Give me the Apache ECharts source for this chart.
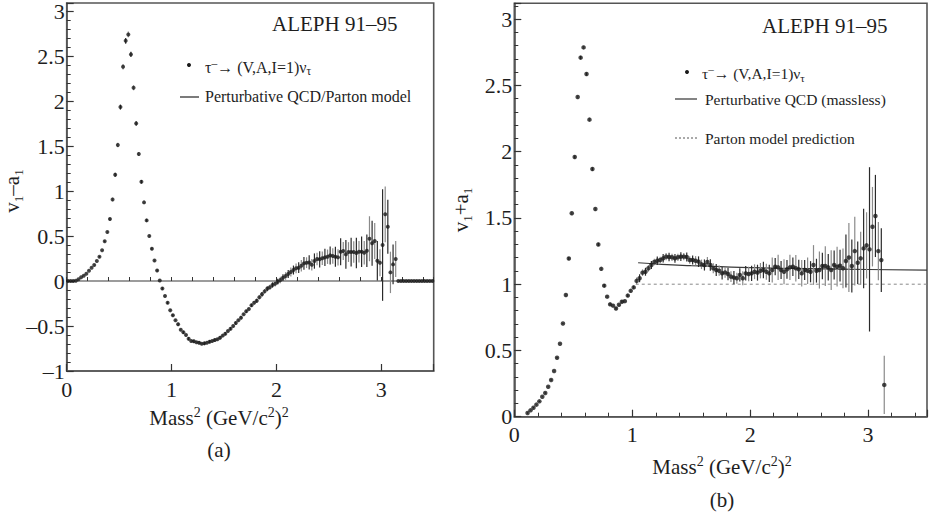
<!DOCTYPE html>
<html><head><meta charset="utf-8">
<script src="https://cdn.jsdelivr.net/npm/echarts@6/dist/echarts.min.js"></script>
<style>html,body{margin:0;padding:0;background:#fff}#c{width:930px;height:518px}</style>
</head><body><div id="c"></div>
<script>
// ---- data ----
const massBins = [
0.0125,0.0375,0.0625,0.0875,0.1125,0.1375,0.1625,0.1875,0.2125,0.2375,
0.2625,0.2875,0.3125,0.3375,0.3625,0.3875,0.4125,0.4375,0.4625,0.4875,
0.5125,0.5375,0.5625,0.5875,0.6125,0.6375,0.6625,0.6875,0.7125,0.7375,
0.7625,0.7875,0.8125,0.8375,0.8625,0.8875,0.9125,0.9375,0.9625,0.9875,
1.0125,1.0375,1.0625,1.0875,1.1125,1.1375,1.1625,1.1875,1.2125,1.2375,
1.2625,1.2875,1.3125,1.3375,1.3625,1.3875,1.4125,1.4375,1.4625,1.4875,
1.5125,1.5375,1.5625,1.5875,1.6125,1.6375,1.6625,1.6875,1.7125,1.7375,
1.7625,1.7875,1.8125,1.8375,1.8625,1.8875,1.9125,1.9375,1.9625,1.9875,
2.0125,2.0375,2.0625,2.0875,2.1125,2.1375,2.1625,2.1875,2.2125,2.2375,
2.2625,2.2875,2.3125,2.3375,2.3625,2.3875,2.4125,2.4375,2.4625,2.4875,
2.5125,2.5375,2.5625,2.5875,2.6125,2.6375,2.6625,2.6875,2.7125,2.7375,
2.7625,2.7875,2.8125,2.8375,2.8625,2.8875,2.9125,2.9375,2.9625,2.9875,
3.0125,3.0375,3.0625,3.0875,3.1125,3.1375,3.1625,3.1875,3.2125,3.2375,
3.2625,3.2875,3.3125,3.3375,3.3625,3.3875,3.4125,3.4375,3.4625,3.4875];

// (a) v1 - a1
const vMinusA = [
0,0,0,0.004,0.019,0.041,0.059,0.081,0.115,0.148,
0.178,0.222,0.27,0.341,0.441,0.544,0.689,0.907,1.181,1.511,
1.933,2.381,2.67,2.741,2.519,2.148,1.752,1.411,1.103,0.874,
0.674,0.5,0.358,0.227,0.116,0.006,-0.082,-0.167,-0.241,-0.326,
-0.381,-0.437,-0.481,-0.541,-0.57,-0.6,-0.641,-0.667,-0.67,-0.681,
-0.685,-0.696,-0.693,-0.685,-0.674,-0.667,-0.656,-0.648,-0.63,-0.607,
-0.585,-0.556,-0.53,-0.5,-0.467,-0.437,-0.407,-0.37,-0.337,-0.311,
-0.27,-0.241,-0.219,-0.181,-0.148,-0.115,-0.085,-0.07,-0.044,-0.03,
-0.008,0.011,0.037,0.056,0.078,0.1,0.122,0.141,0.148,0.17,
0.196,0.204,0.207,0.181,0.222,0.244,0.241,0.252,0.263,0.27,
0.285,0.278,0.27,0.263,0.326,0.333,0.296,0.322,0.322,0.322,
0.311,0.326,0.326,0.315,0.337,0.47,0.419,0.444,0.226,0.204,
0.4,0.741,0.604,0.096,0.185,0.244,0,0,0,0,
0,0,0,0,0,0,0,0,0,0];
const vMinusAErr = [
0.003,0.003,0.003,0.003,0.003,0.003,0.003,0.003,0.003,0.003,
0.006,0.006,0.008,0.008,0.01,0.012,0.015,0.02,0.022,0.025,
0.028,0.03,0.032,0.032,0.03,0.028,0.025,0.022,0.02,0.018,
0.016,0.014,0.014,0.014,0.014,0.014,0.014,0.014,0.014,0.014,
0.014,0.013,0.018,0.013,0.018,0.013,0.018,0.013,0.018,0.013,
0.018,0.013,0.018,0.013,0.018,0.013,0.018,0.013,0.018,0.013,
0.018,0.013,0.018,0.013,0.018,0.013,0.018,0.013,0.018,0.013,
0.018,0.02,0.022,0.022,0.025,0.025,0.028,0.028,0.03,0.03,
0.032,0.036,0.038,0.042,0.045,0.05,0.05,0.055,0.06,0.065,
0.07,0.06,0.08,0.065,0.085,0.07,0.09,0.075,0.095,0.08,
0.1,0.085,0.11,0.09,0.15,0.1,0.16,0.11,0.16,0.12,
0.17,0.12,0.17,0.13,0.18,0.25,0.25,0.2,0.22,0.15,
0.62,0.31,0.3,0.23,0.22,0.2,0,0,0,0,
0,0,0,0,0,0,0,0,0,0];

// (b) v1 + a1
const vPlusA = [
null,null,null,null,0.028,0.048,0.068,0.091,0.116,0.151,
0.179,0.226,0.277,0.345,0.445,0.551,0.703,0.918,1.194,1.535,
1.96,2.413,2.71,2.787,2.586,2.242,1.869,1.567,1.3,1.116,
0.989,0.906,0.848,0.838,0.817,0.845,0.868,0.872,0.914,0.95,
0.976,1.025,1.045,1.087,1.094,1.12,1.145,1.168,1.177,1.183,
1.195,1.208,1.205,1.203,1.195,1.203,1.208,1.208,1.205,1.183,
1.183,1.177,1.17,1.15,1.145,1.168,1.145,1.12,1.107,1.102,
1.082,1.089,1.077,1.057,1.05,1.045,1.07,1.045,1.082,1.077,
1.082,1.094,1.087,1.102,1.107,1.094,1.082,1.107,1.132,1.127,
1.107,1.094,1.112,1.127,1.132,1.12,1.112,1.082,1.107,1.102,
1.094,1.145,1.102,1.107,1.137,1.137,1.127,1.107,1.145,1.132,
1.14,1.12,1.175,1.202,1.137,1.25,1.162,1.195,1.27,1.293,
1.263,1.434,1.515,1.25,1.182,0.24,null,null,null,null,
null,null,null,null,null,null,null,null,null,null];
const vPlusAErr = [
null,null,null,null,0.005,0.005,0.005,0.005,0.005,0.005,
0.005,0.005,0.005,0.005,0.005,0.005,0.005,0.012,0.012,0.012,
0.012,0.012,0.012,0.012,0.012,0.012,0.012,0.012,0.012,0.012,
0.012,0.01,0.01,0.01,0.01,0.01,0.01,0.01,0.01,0.01,
0.01,0.025,0.03,0.025,0.03,0.025,0.03,0.025,0.032,0.025,
0.032,0.027,0.032,0.027,0.033,0.027,0.033,0.028,0.034,0.028,
0.034,0.035,0.04,0.036,0.042,0.037,0.044,0.038,0.046,0.039,
0.047,0.04,0.048,0.041,0.05,0.042,0.05,0.052,0.055,0.054,
0.058,0.056,0.06,0.058,0.062,0.06,0.065,0.095,0.065,0.095,
0.068,0.095,0.07,0.095,0.07,0.1,0.072,0.1,0.075,0.1,
0.08,0.15,0.09,0.14,0.1,0.15,0.1,0.15,0.11,0.15,
0.12,0.15,0.2,0.26,0.2,0.26,0.16,0.2,0.3,0.25,
0.62,0.3,0.31,0.22,0.24,0.22,null,null,null,null,
null,null,null,null,null,null,null,null,null,null];

// theory curves
const pqcdLeftX = [0, 3.5];
const pqcdLeftY = [0, 0];
const pqcdRightX = [1.05, 1.25, 1.5, 1.75, 2.0, 2.5, 3.0, 3.5];
const pqcdRightY = [1.162, 1.15, 1.14, 1.132, 1.125, 1.117, 1.111, 1.106];
const partonX = [1.03, 3.5];
const partonY = [1, 1];

// tick labels
const xTickLabels = [0, 1, 2, 3];
const yTickLabelsA = [-1, -0.5, 0, 0.5, 1, 1.5, 2, 2.5, 3];
const yTickLabelsB = [0, 0.5, 1, 1.5, 2, 2.5, 3];

// ---- chart ----
const SERIF = 'Liberation Serif, serif';
const INK = '#1e1e1e';
const chart = echarts.init(document.getElementById('c'), null, {renderer: 'svg'});

function pts(ys) { const o = []; ys.forEach((y, i) => { if (y !== null) o.push([massBins[i], y]); }); return o; }
function errs(ys, es) { const o = []; ys.forEach((y, i) => { if (y !== null && es[i]) o.push([massBins[i], y, es[i]]); }); return o; }
function pairs(xs, ys) { return xs.map((x, i) => [x, ys[i]]); }
function errRender(params, api) {
  const x = api.value(0), y = api.value(1), e = api.value(2);
  const a = api.coord([x, y - e]), b = api.coord([x, y + e]);
  return {type: 'line', shape: {x1: a[0], y1: a[1], x2: b[0], y2: b[1]},
    style: {stroke: (params.dataIndex % 2) ? '#8a8a8a' : '#2a2a2a', lineWidth: 1.2}};
}
function fmtNum(v) { return v < 0 ? '\u2013' + Math.abs(v) : String(v); }
function majorX(grid) {
  return {gridIndex: grid, type: 'value', min: 0, max: 3.5, interval: 1, position: 'bottom',
    axisLine: {show: true, onZero: false, lineStyle: {color: '#555', width: 1.6}},
    axisTick: {show: true, inside: true, length: 7, lineStyle: {color: '#333', width: 1.2}},
    axisLabel: {show: true, margin: 7, color: INK, fontFamily: SERIF, fontSize: 22,
      formatter: v => xTickLabels.indexOf(v) >= 0 ? fmtNum(v) : ''},
    splitLine: {show: false}};
}
function minorX(grid) {
  return {gridIndex: grid, type: 'value', min: 0, max: 3.5, interval: 0.2, position: 'bottom',
    axisLine: {show: false}, axisLabel: {show: false}, splitLine: {show: false},
    axisTick: {show: true, inside: true, length: 4, lineStyle: {color: '#333', width: 1}}};
}
function majorY(grid, min, max, labels) {
  return {gridIndex: grid, type: 'value', min: min, max: max, interval: 0.5, position: 'left',
    axisLine: {show: true, onZero: false, lineStyle: {color: '#555', width: 1.6}},
    axisTick: {show: true, inside: true, length: 7, lineStyle: {color: '#333', width: 1.2}},
    axisLabel: {show: true, margin: 2, color: INK, fontFamily: SERIF, fontSize: 22,
      formatter: v => labels.some(l => Math.abs(l - v) < 1e-9) ? fmtNum(v) : ''},
    splitLine: {show: false}};
}
function minorY(grid, min, max) {
  return {gridIndex: grid, type: 'value', min: min, max: max, interval: 0.1, position: 'left',
    axisLine: {show: false}, axisLabel: {show: false}, splitLine: {show: false},
    axisTick: {show: true, inside: true, length: 4, lineStyle: {color: '#333', width: 1}}};
}

const richSub = {
  n: {fontFamily: SERIF, fontSize: 21, lineHeight: 26, color: INK, verticalAlign: 'middle'},
  s: {fontFamily: SERIF, fontSize: 13, lineHeight: 13, color: INK, verticalAlign: 'bottom'}
};
const richSup = {
  n: {fontFamily: SERIF, fontSize: 21, lineHeight: 26, color: INK, verticalAlign: 'middle'},
  p: {fontFamily: SERIF, fontSize: 14, lineHeight: 16, color: INK, verticalAlign: 'top'}
};
function legRich(size) {
  return {
    n: {fontFamily: SERIF, fontSize: size, lineHeight: 20, color: INK, verticalAlign: 'middle'},
    s: {fontFamily: SERIF, fontSize: size * 0.72, lineHeight: 10, color: INK, verticalAlign: 'bottom'},
    p: {fontFamily: SERIF, fontSize: size * 0.72, lineHeight: 10, color: INK, verticalAlign: 'top'}
  };
}
function txt(x, y, text, opts) {
  return {type: 'text', x: x, y: y, silent: true,
    style: Object.assign({text: text, fill: INK, fontFamily: SERIF, fontSize: 21,
      align: 'center', verticalAlign: 'middle'}, opts || {})};
}
function rtxt(x, y, text, rich, align, rot) {
  const t = {type: 'text', x: x, y: y, silent: true,
    style: {text: text, rich: rich, fill: INK, fontFamily: SERIF, fontSize: 16,
      align: align, verticalAlign: 'middle'}};
  if (rot) t.rotation = rot;
  return t;
}
const massTitle = '{n|Mass}{p|2}{n| (GeV/c}{p|2}{n|)}{p|2}';
const tauText = '{n|\u03c4}{p|\u2013}{n|\u2192 (V,A,I=1)\u03bd}{s|\u03c4}';

const option = {
  animation: false,
  backgroundColor: '#fff',
  grid: [
    {left: 66.7, top: 3, width: 367, height: 368, show: true, borderColor: '#555', borderWidth: 1.6, backgroundColor: 'transparent', containLabel: false},
    {left: 514.3, top: 3.3, width: 414.4, height: 413.4, show: true, borderColor: '#555', borderWidth: 1.6, backgroundColor: 'transparent', containLabel: false}
  ],
  xAxis: [majorX(0), minorX(0), majorX(1), minorX(1)],
  yAxis: [majorY(0, -1, 3.09, yTickLabelsA), minorY(0, -1, 3.09), majorY(1, 0, 3.12, yTickLabelsB), minorY(1, 0, 3.12)],
  series: [
    {type: 'line', xAxisIndex: 0, yAxisIndex: 0, data: pairs(pqcdLeftX, pqcdLeftY), showSymbol: false,
      lineStyle: {color: '#3a3a3a', width: 1.2}, z: 1, silent: true},
    {type: 'custom', xAxisIndex: 0, yAxisIndex: 0, data: errs(vMinusA, vMinusAErr), renderItem: errRender, z: 2, silent: true},
    {type: 'scatter', xAxisIndex: 0, yAxisIndex: 0, data: pts(vMinusA), symbol: 'circle', symbolSize: 4,
      itemStyle: {color: '#1a1a1a'}, z: 3, silent: true},
    {type: 'line', xAxisIndex: 2, yAxisIndex: 2, data: pairs(partonX, partonY), showSymbol: false,
      lineStyle: {color: '#888', width: 1, type: [3, 3]}, z: 1, silent: true},
    {type: 'line', xAxisIndex: 2, yAxisIndex: 2, data: pairs(pqcdRightX, pqcdRightY), showSymbol: false, smooth: true,
      lineStyle: {color: '#3a3a3a', width: 1.2}, z: 1, silent: true},
    {type: 'custom', xAxisIndex: 2, yAxisIndex: 2, data: errs(vPlusA, vPlusAErr), renderItem: errRender, z: 2, silent: true},
    {type: 'scatter', xAxisIndex: 2, yAxisIndex: 2, data: pts(vPlusA), symbol: 'circle', symbolSize: 4.5,
      itemStyle: {color: '#1a1a1a'}, z: 3, silent: true}
  ],
  graphic: [
    // panel (a)
    rtxt(12, 191, '{n|v}{s|1}{n|\u2013a}{s|1}', richSub, 'center', Math.PI / 2),
    rtxt(219, 418, massTitle, richSup, 'center'),
    txt(219, 450, '(a)'),
    txt(272, 24, 'ALEPH 91\u201395', {align: 'left', fontSize: 21}),
    {type: 'circle', shape: {cx: 189, cy: 65, r: 2}, style: {fill: '#1a1a1a'}, silent: true},
    rtxt(205, 67, tauText, legRich(16), 'left'),
    {type: 'line', shape: {x1: 180, y1: 97, x2: 199, y2: 97}, style: {stroke: '#333', lineWidth: 1.3}, silent: true},
    txt(205, 96, 'Perturbative QCD/Parton model', {align: 'left', fontSize: 16}),
    // panel (b)
    rtxt(461, 210, '{n|v}{s|1}{n|+a}{s|1}', richSub, 'center', Math.PI / 2),
    rtxt(722, 467, massTitle, richSup, 'center'),
    txt(722, 500, '(b)'),
    txt(762, 26, 'ALEPH 91\u201395', {align: 'left', fontSize: 21}),
    {type: 'circle', shape: {cx: 687, cy: 72, r: 2}, style: {fill: '#1a1a1a'}, silent: true},
    rtxt(702, 73, tauText, legRich(15.5), 'left'),
    {type: 'line', shape: {x1: 675, y1: 99, x2: 697, y2: 99}, style: {stroke: '#777', lineWidth: 1.8}, silent: true},
    txt(705, 99, 'Perturbative QCD (massless)', {align: 'left', fontSize: 15.5}),
    {type: 'line', shape: {x1: 675, y1: 138, x2: 697, y2: 138}, style: {stroke: '#555', lineWidth: 1, lineDash: [2, 2]}, silent: true},
    txt(705, 138, 'Parton model prediction', {align: 'left', fontSize: 15.5})
  ]
};
chart.setOption(option);
</script>
</body></html>
